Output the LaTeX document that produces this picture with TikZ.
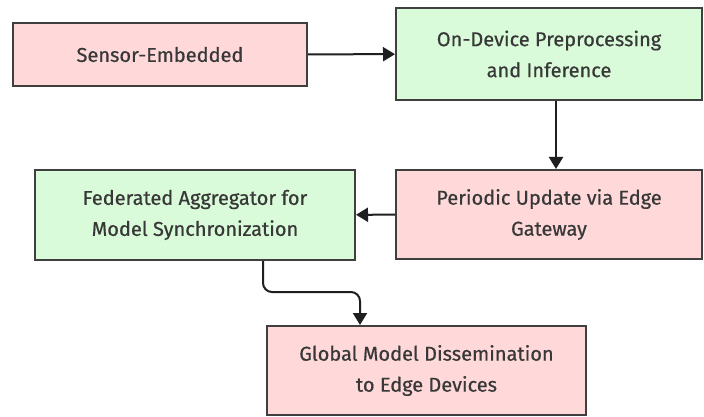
\documentclass[tikz,border=0pt]{standalone}
\usepackage{fontspec}
\setmainfont{Fira Sans}[FakeBold=0.6]
\usetikzlibrary{arrows.meta}
\definecolor{pinkfill}{HTML}{FFD9D9}
\definecolor{greenfill}{HTML}{DAFBD9}
\definecolor{edge}{HTML}{3F3F3F}
\definecolor{txt}{HTML}{383838}
\begin{document}
\begin{tikzpicture}[x=1pt,y=-1pt,
  box/.style={draw=edge, line width=2pt, inner sep=0pt, align=center,
    text=txt, font=\fontsize{20}{31}\selectfont},
  pinkbox/.style={box, fill=pinkfill},
  greenbox/.style={box, fill=greenfill},
  conn/.style={draw=black!88, line width=2pt, -{Triangle[width=14pt,length=12pt]}, rounded corners=9pt}]
\useasboundingbox[fill=white] (0,0) rectangle (704,417);
\node[pinkbox, minimum width=294pt, minimum height=63pt] (S) at (160,54.5) {Sensor-Embedded};
\node[greenbox, minimum width=306pt, minimum height=92pt] (O) at (549,54) {On-Device Preprocessing\\and Inference};
\node[pinkbox, minimum width=306pt, minimum height=89pt] (P) at (549,214.5) {Periodic Update via Edge\\Gateway};
\node[greenbox, minimum width=320pt, minimum height=90pt] (F) at (195,215) {Federated Aggregator for\\Model Synchronization};
\node[pinkbox, minimum width=319pt, minimum height=89pt] (G) at (426.5,370.5) {Global Model Dissemination\\to Edge Devices};
\coordinate (a1) at (556,0);
\coordinate (a2) at (263,0);
\coordinate (a3) at (360,0);
\coordinate (bend) at (0,292);
\draw[conn] (S) -- (O);
\draw[conn] (O.south -| a1) -- (P.north -| a1);
\draw[conn] (P) -- (F);
\draw[conn] (F.south -| a2) -- (bend -| a2) -- (bend -| a3) -- (G.north -| a3);
\end{tikzpicture}
\end{document}
